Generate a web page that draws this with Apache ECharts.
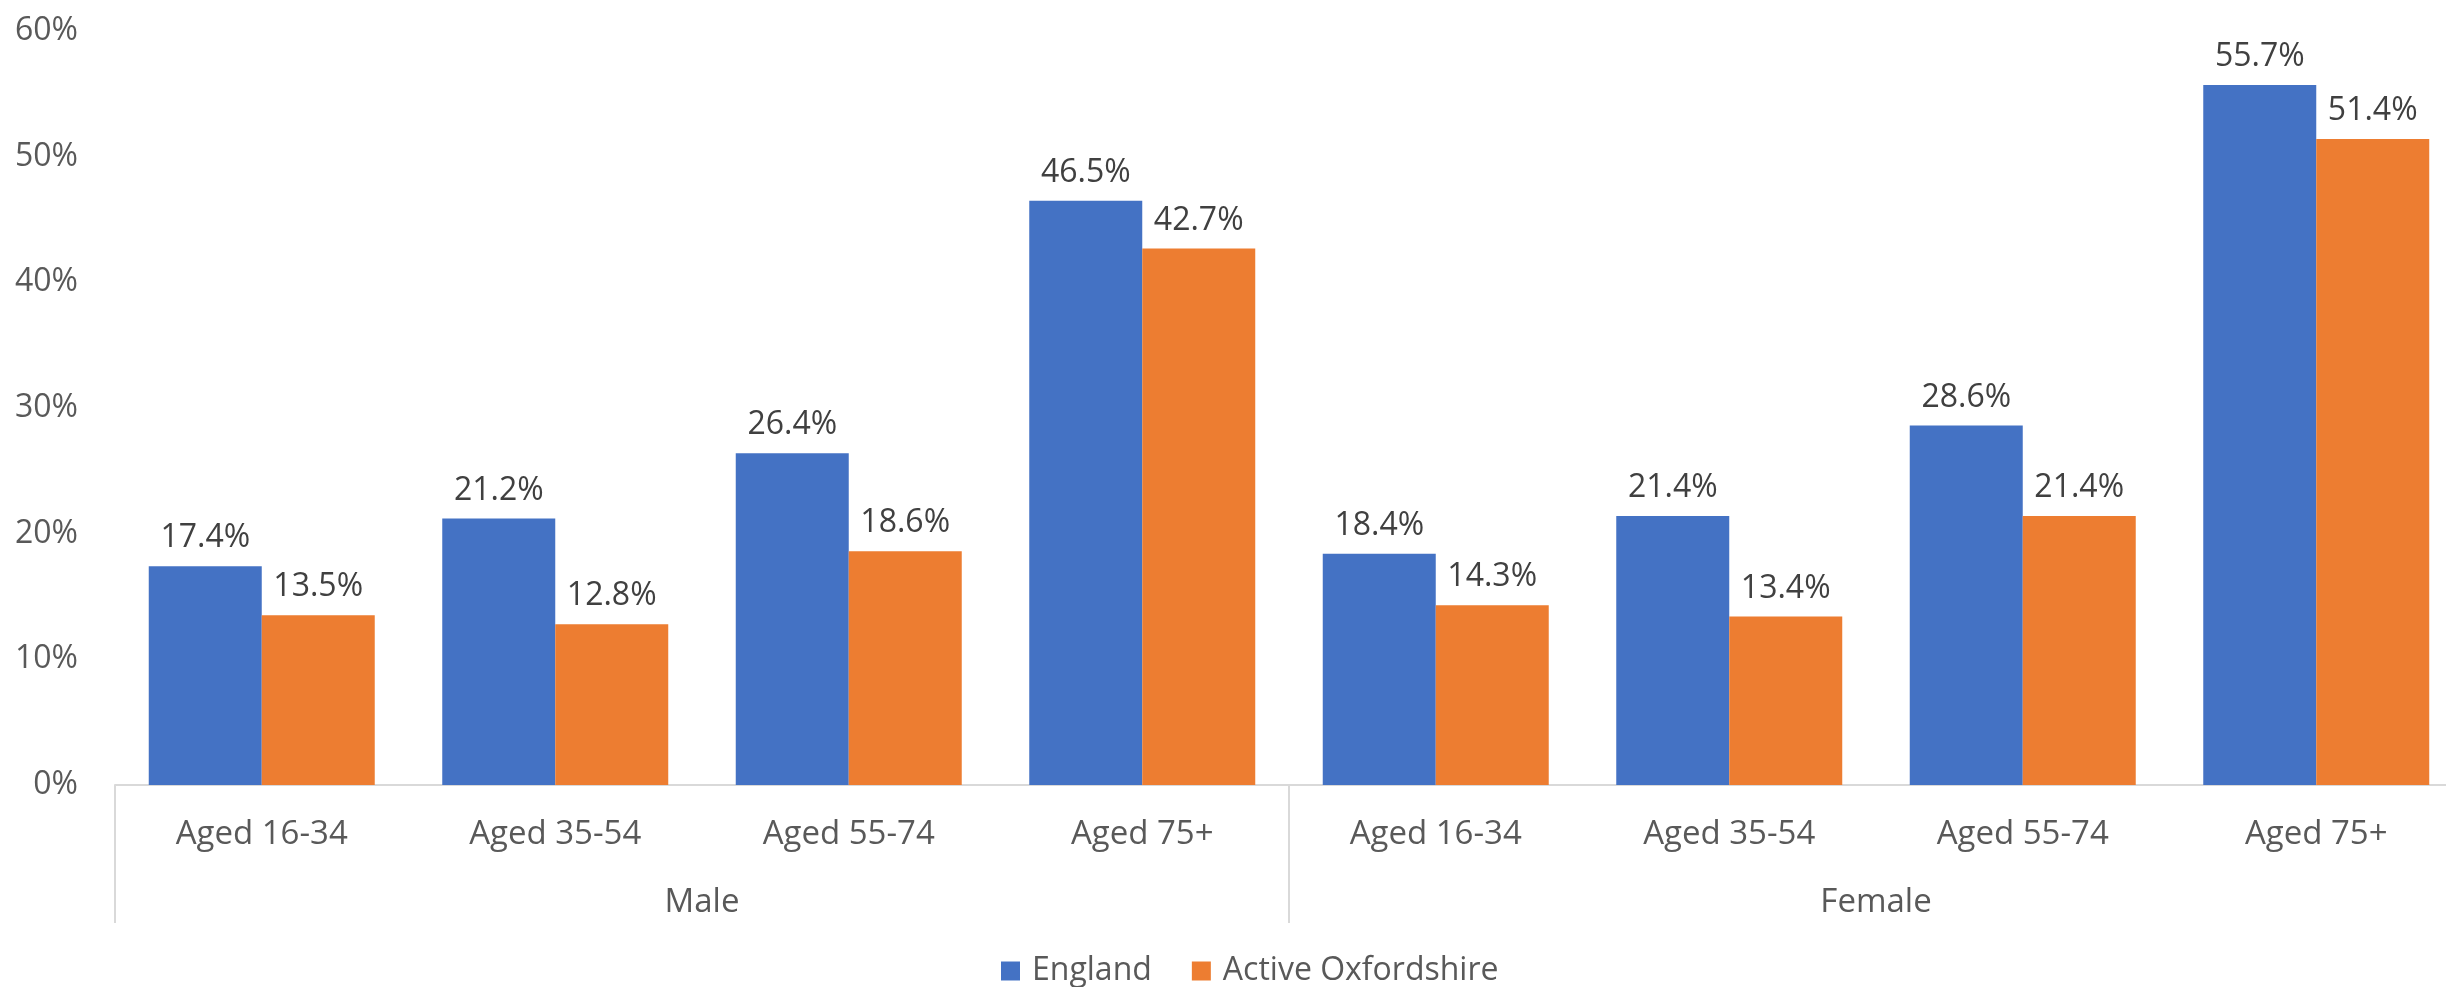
<!DOCTYPE html>
<html>
<head>
<meta charset="utf-8">
<script src="https://cdn.jsdelivr.net/npm/echarts@6/dist/echarts.min.js"></script>
<style>
html,body{margin:0;padding:0;background:#fff;}
#chart{width:2446px;height:987px;}
</style>
</head>
<body>
<div id="chart"></div>
<script>
const categories = ["Aged 16-34","Aged 35-54","Aged 55-74","Aged 75+","Aged 16-34","Aged 35-54","Aged 55-74","Aged 75+"];
const groups = ["Male","Female"];
const england = [17.4, 21.2, 26.4, 46.5, 18.4, 21.4, 28.6, 55.7];
const activeOxfordshire = [13.5, 12.8, 18.6, 42.7, 14.3, 13.4, 21.4, 51.4];
const yTicks = [0, 10, 20, 30, 40, 50, 60];

const FONT = "'Open Sans', 'Noto Sans', sans-serif";
const chart = echarts.init(document.getElementById('chart'));
chart.setOption({
  animation: false,
  textStyle: { fontFamily: FONT },
  grid: { left: 115, width: 2348, top: 31, bottom: 202, containLabel: false, outerBoundsMode: 'none' },
  legend: {
    data: ["England", "Active Oxfordshire"],
    bottom: -5,
    left: 996,
    icon: 'rect',
    itemWidth: 19,
    itemHeight: 19,
    itemGap: 40,
    textStyle: { fontSize: 32, color: '#595959', fontFamily: FONT, padding: [0, 0, 0, 7] }
  },
  xAxis: [
    {
      type: 'category',
      data: categories,
      axisLine: { show: true, lineStyle: { color: '#d9d9d9', width: 2 } },
      axisTick: { show: false },
      axisLabel: { color: '#595959', fontSize: 33, margin: 33, interval: 0, fontFamily: FONT }
    },
    {
      type: 'category',
      data: groups,
      position: 'bottom',
      axisLine: { show: false },
      axisTick: { show: true, length: 138, interval: 0, lineStyle: { color: '#d9d9d9', width: 2 } },
      axisLabel: { color: '#595959', fontSize: 33, margin: 101, interval: 0, fontFamily: FONT }
    }
  ],
  yAxis: {
    type: 'value',
    min: yTicks[0],
    max: yTicks[yTicks.length - 1],
    interval: 10,
    splitLine: { show: false },
    axisLine: { show: false },
    axisTick: { show: false },
    axisLabel: { color: '#595959', fontSize: 32, margin: 37, formatter: '{value}%', fontFamily: FONT }
  },
  series: [
    {
      name: 'England',
      type: 'bar',
      data: england,
      xAxisIndex: 0,
      itemStyle: { color: '#4472C4' },
      barGap: '0%',
      barCategoryGap: '23%',
      label: { show: true, position: 'top', distance: 12, color: '#404040', fontSize: 32, formatter: p => p.value.toFixed(1) + '%', fontFamily: FONT }
    },
    {
      name: 'Active Oxfordshire',
      type: 'bar',
      data: activeOxfordshire,
      xAxisIndex: 0,
      itemStyle: { color: '#ED7D31' },
      barGap: '0%',
      barCategoryGap: '23%',
      label: { show: true, position: 'top', distance: 12, color: '#404040', fontSize: 32, formatter: p => p.value.toFixed(1) + '%', fontFamily: FONT }
    }
  ]
});
</script>
</body>
</html>
